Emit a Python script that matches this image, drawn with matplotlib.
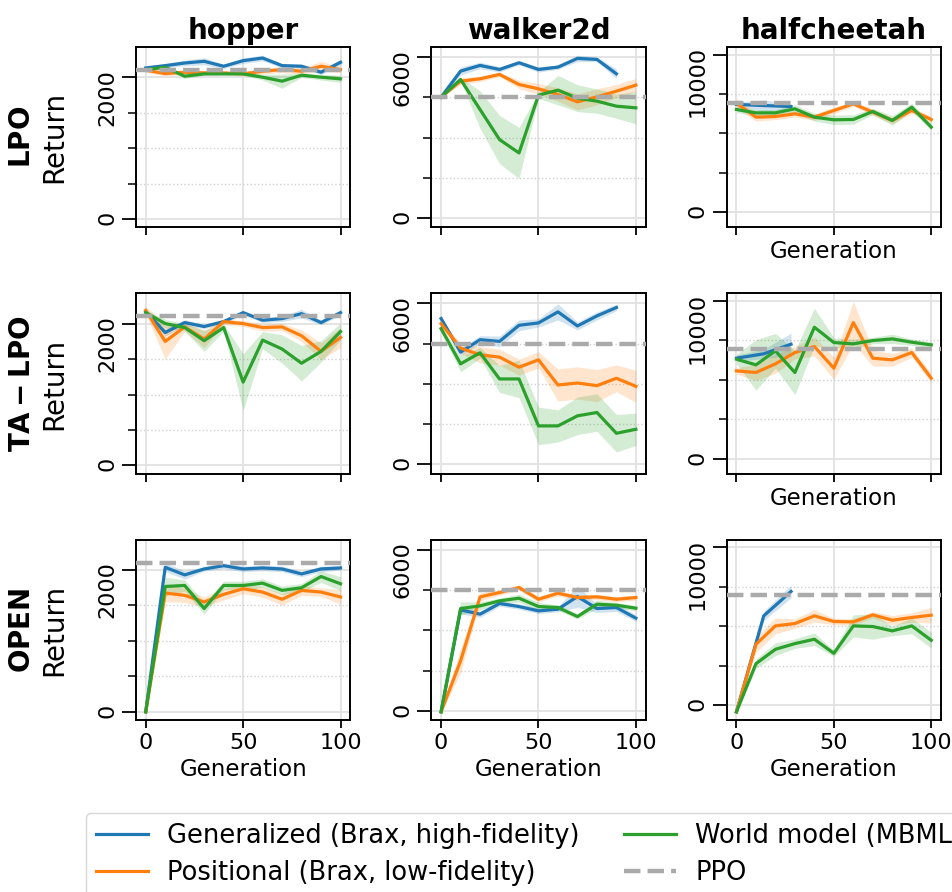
import matplotlib
matplotlib.use("Agg")
import matplotlib.pyplot as plt
import numpy as np
from matplotlib.lines import Line2D
from matplotlib.transforms import ScaledTranslation

GENERATIONS = [0, 10, 20, 30, 40, 50, 60, 70, 80, 90, 100]
WALKER_GEN_X = [0, 10, 20, 30, 40, 50, 60, 70, 80, 90]
CHEETAH_GEN_X = [0, 14, 28]

ENVS = ["hopper", "walker2d", "halfcheetah"]
METHODS = ["LPO", "TA-LPO", "OPEN"]
SERIES_LABELS = [
    "Generalized (Brax, high-fidelity)",
    "Positional (Brax, low-fidelity)",
    "World model (MBML)",
]
PPO_LABEL = "PPO"
PPO_RETURN = [2100, 4500, 6960]
Y_MAJOR = [2000, 6000, 10000]

# hopper
HOPPER_LPO_GEN = [2130, 2163, 2200, 2224, 2154, 2233, 2270, 2163, 2154, 2070, 2210]
HOPPER_LPO_GEN_SE = [20, 30, 40, 50, 30, 40, 40, 30, 30, 30, 40]
HOPPER_LPO_POS = [2098, 2051, 2070, 2061, 2061, 2047, 2084, 2107, 2084, 2154, 2107]
HOPPER_LPO_POS_SE = [30, 30, 30, 30, 20, 30, 40, 40, 40, 70, 40]
HOPPER_LPO_WM = [2107, 2140, 2014, 2047, 2047, 2047, 2000, 1944, 2028, 2000, 1977]
HOPPER_LPO_WM_SE = [20, 30, 30, 20, 20, 20, 40, 100, 30, 40, 50]

HOPPER_TA_GEN = [2168, 1874, 2014, 1958, 2028, 2154, 2047, 2070, 2140, 2014, 2154]
HOPPER_TA_GEN_SE = [30, 50, 40, 30, 30, 30, 30, 40, 60, 30, 40]
HOPPER_TA_POS = [2186, 1748, 1953, 1781, 2028, 2000, 1944, 1953, 1828, 1608, 1804]
HOPPER_TA_POS_SE = [50, 250, 60, 120, 40, 40, 50, 50, 80, 120, 140]
HOPPER_TA_WM = [2154, 2000, 1944, 1758, 1944, 1175, 1767, 1641, 1441, 1608, 1888]
HOPPER_TA_WM_SE = [40, 60, 50, 150, 50, 400, 120, 200, 250, 150, 120]

HOPPER_OPEN_GEN = [0, 2037, 1930, 2014, 2060, 2014, 2028, 2014, 1944, 2014, 2028]
HOPPER_OPEN_GEN_SE = [0, 60, 60, 30, 40, 40, 40, 40, 40, 40, 30]
HOPPER_OPEN_POS = [0, 1674, 1642, 1549, 1656, 1735, 1688, 1586, 1712, 1688, 1619]
HOPPER_OPEN_POS_SE = [0, 120, 100, 70, 80, 70, 70, 80, 70, 60, 100]
HOPPER_OPEN_WM = [0, 1767, 1781, 1456, 1781, 1781, 1814, 1712, 1749, 1907, 1805]
HOPPER_OPEN_WM_SE = [0, 130, 80, 80, 60, 60, 60, 60, 60, 80, 100]

# walker2d
WALKER_LPO_GEN = [4507, 5478, 5690, 5540, 5789, 5540, 5627, 5951, 5914, 5378]
WALKER_LPO_GEN_SE = [0, 150, 120, 100, 80, 100, 80, 120, 80, 180]
WALKER_LPO_POS = [4507, 5105, 5192, 5354, 4980, 4818, 4607, 4333, 4519, 4731, 4955]
WALKER_LPO_POS_SE = [0, 120, 100, 80, 150, 200, 250, 300, 300, 250, 250]
WALKER_LPO_WM = [4507, 5167, 4046, 2926, 2428, 4582, 4768, 4470, 4358, 4171, 4109]
WALKER_LPO_WM_SE = [0, 60, 700, 900, 950, 120, 550, 500, 450, 450, 600]

WALKER_TA_GEN = [5437, 4187, 4650, 4587, 5187, 5275, 5687, 5162, 5537, 5850]
WALKER_TA_GEN_SE = [80, 150, 150, 200, 200, 150, 300, 150, 150, 120]
WALKER_TA_POS = [5250, 4337, 4087, 4000, 3625, 3900, 2962, 3037, 2937, 3212, 2912]
WALKER_TA_POS_SE = [100, 200, 300, 300, 300, 300, 600, 600, 600, 500, 600]
WALKER_TA_WM = [5062, 3750, 4162, 3187, 3187, 1437, 1437, 1812, 1937, 1162, 1312]
WALKER_TA_WM_SE = [100, 300, 200, 500, 700, 700, 600, 700, 700, 700, 600]

WALKER_OPEN_GEN = [-37, 3763, 3602, 4000, 3888, 3726, 3788, 4260, 3813, 3850, 3453]
WALKER_OPEN_GEN_SE = [0, 150, 120, 100, 100, 100, 100, 400, 150, 150, 120]
WALKER_OPEN_POS = [-37, 1863, 4248, 4409, 4595, 4160, 4384, 4223, 4248, 4160, 4223]
WALKER_OPEN_POS_SE = [0, 450, 150, 100, 100, 100, 100, 100, 100, 100, 100]
WALKER_OPEN_WM = [-37, 3813, 3912, 4099, 4198, 3888, 3850, 3515, 3974, 3937, 3825]
WALKER_OPEN_WM_SE = [0, 250, 150, 100, 150, 150, 100, 100, 150, 100, 100]

# halfcheetah
CHEETAH_LPO_GEN = [6840, 6770, 6710]
CHEETAH_LPO_GEN_SE = [150, 350, 200]
CHEETAH_LPO_POS = [6920, 6035, 6077, 6246, 6035, 6457, 6879, 6351, 5824, 6457, 5887]
CHEETAH_LPO_POS_SE = [300, 250, 200, 200, 200, 200, 150, 200, 200, 200, 200]
CHEETAH_LPO_WM = [6520, 6309, 6309, 6562, 6035, 5866, 5887, 6393, 5824, 6668, 5402]
CHEETAH_LPO_WM_SE = [200, 200, 200, 250, 250, 300, 300, 200, 300, 250, 200]

CHEETAH_TA_GEN = [6372, 6650, 7258]
CHEETAH_TA_GEN_SE = [200, 300, 700]
CHEETAH_TA_POS = [5570, 5465, 6013, 6731, 7110, 5739, 8630, 6372, 6266, 6731, 5106]
CHEETAH_TA_POS_SE = [200, 500, 600, 400, 600, 700, 1330, 500, 400, 300, 300]
CHEETAH_TA_WM = [6309, 5950, 6836, 5465, 8334, 7364, 7280, 7490, 7596, 7385, 7216]
CHEETAH_TA_WM_SE = [300, 1600, 1100, 1400, 1200, 300, 300, 200, 300, 200, 200]

CHEETAH_OPEN_GEN = [-424, 5658, 7200]
CHEETAH_OPEN_GEN_SE = [0, 300, 400]
CHEETAH_OPEN_POS = [-424, 3857, 5022, 5170, 5658, 5298, 5276, 5721, 5382, 5552, 5700]
CHEETAH_OPEN_POS_SE = [0, 500, 500, 300, 400, 200, 200, 200, 300, 300, 500]
CHEETAH_OPEN_WM = [-424, 2628, 3539, 3899, 4174, 3284, 5022, 4980, 4704, 5022, 4111]
CHEETAH_OPEN_WM_SE = [0, 300, 400, 300, 400, 200, 700, 800, 300, 500, 500]

COLORS = ["#1f77b4", "#ff7f0e", "#2ca02c"]
PPO_COLOR = "#aaaaaa"

RESULTS = {
    ("hopper", "LPO"): [(GENERATIONS, HOPPER_LPO_GEN, HOPPER_LPO_GEN_SE),
                        (GENERATIONS, HOPPER_LPO_POS, HOPPER_LPO_POS_SE),
                        (GENERATIONS, HOPPER_LPO_WM, HOPPER_LPO_WM_SE)],
    ("hopper", "TA-LPO"): [(GENERATIONS, HOPPER_TA_GEN, HOPPER_TA_GEN_SE),
                           (GENERATIONS, HOPPER_TA_POS, HOPPER_TA_POS_SE),
                           (GENERATIONS, HOPPER_TA_WM, HOPPER_TA_WM_SE)],
    ("hopper", "OPEN"): [(GENERATIONS, HOPPER_OPEN_GEN, HOPPER_OPEN_GEN_SE),
                         (GENERATIONS, HOPPER_OPEN_POS, HOPPER_OPEN_POS_SE),
                         (GENERATIONS, HOPPER_OPEN_WM, HOPPER_OPEN_WM_SE)],
    ("walker2d", "LPO"): [(WALKER_GEN_X, WALKER_LPO_GEN, WALKER_LPO_GEN_SE),
                          (GENERATIONS, WALKER_LPO_POS, WALKER_LPO_POS_SE),
                          (GENERATIONS, WALKER_LPO_WM, WALKER_LPO_WM_SE)],
    ("walker2d", "TA-LPO"): [(WALKER_GEN_X, WALKER_TA_GEN, WALKER_TA_GEN_SE),
                             (GENERATIONS, WALKER_TA_POS, WALKER_TA_POS_SE),
                             (GENERATIONS, WALKER_TA_WM, WALKER_TA_WM_SE)],
    ("walker2d", "OPEN"): [(GENERATIONS, WALKER_OPEN_GEN, WALKER_OPEN_GEN_SE),
                           (GENERATIONS, WALKER_OPEN_POS, WALKER_OPEN_POS_SE),
                           (GENERATIONS, WALKER_OPEN_WM, WALKER_OPEN_WM_SE)],
    ("halfcheetah", "LPO"): [(CHEETAH_GEN_X, CHEETAH_LPO_GEN, CHEETAH_LPO_GEN_SE),
                             (GENERATIONS, CHEETAH_LPO_POS, CHEETAH_LPO_POS_SE),
                             (GENERATIONS, CHEETAH_LPO_WM, CHEETAH_LPO_WM_SE)],
    ("halfcheetah", "TA-LPO"): [(CHEETAH_GEN_X, CHEETAH_TA_GEN, CHEETAH_TA_GEN_SE),
                                (GENERATIONS, CHEETAH_TA_POS, CHEETAH_TA_POS_SE),
                                (GENERATIONS, CHEETAH_TA_WM, CHEETAH_TA_WM_SE)],
    ("halfcheetah", "OPEN"): [(CHEETAH_GEN_X, CHEETAH_OPEN_GEN, CHEETAH_OPEN_GEN_SE),
                              (GENERATIONS, CHEETAH_OPEN_POS, CHEETAH_OPEN_POS_SE),
                              (GENERATIONS, CHEETAH_OPEN_WM, CHEETAH_OPEN_WM_SE)],
}


def style_axis(ax, y_major):
    ax.set_xticks([0, 50, 100])
    ax.set_yticks([0, y_major])
    ax.set_yticks(np.arange(y_major / 4, y_major, y_major / 4), minor=True)
    ax.grid(True, which="major", color="#e2e2e2", lw=1.3, zorder=0)
    ax.grid(True, which="minor", axis="y", color="#d0d0d0", lw=1.0, ls=":", zorder=0)
    ax.tick_params(axis="y", which="major", length=10, width=1.3, labelsize=16, labelrotation=90)
    ax.tick_params(axis="y", which="minor", length=5.5, width=1.1)
    ax.tick_params(axis="x", which="major", length=5.5, width=1.3, labelsize=16)
    for spine in ax.spines.values():
        spine.set_linewidth(1.4)
        spine.set_color("black")


def hang_ytick_labels(ax, fig):
    # rotated labels hang down from their tick, starting a little above it
    shift = ScaledTranslation(0, 6 / 72, fig.dpi_scale_trans)
    for label in ax.get_yticklabels():
        label.set_va("top")
        label.set_transform(label.get_transform() + shift)


def main():
    fig, axes = plt.subplots(3, 3, figsize=(9.53, 8.92), dpi=100, sharex=True, sharey="col")
    fig.subplots_adjust(left=0.1427, right=0.9874, top=0.9473, bottom=0.1928,
                        wspace=0.3785, hspace=0.3667)

    for row, method in enumerate(METHODS):
        for col, env in enumerate(ENVS):
            ax = axes[row, col]
            for (xs, mean, se), color in zip(RESULTS[(env, method)], COLORS):
                mean = np.asarray(mean, dtype=float)
                se = np.asarray(se, dtype=float)
                ax.fill_between(xs, mean - se, mean + se, color=color, alpha=0.2, lw=0, zorder=2)
                ax.plot(xs, mean, color=color, lw=2.3, zorder=3)
            ax.axhline(PPO_RETURN[col], color=PPO_COLOR, lw=3.2, ls="--", zorder=4)
            style_axis(ax, Y_MAJOR[col])
            hang_ytick_labels(ax, fig)

            if row == 0:
                ax.set_title(env, fontsize=20, fontweight="bold")
            if col == 0:
                ax.set_ylabel(r"$\bf{" + method + "}$" + "\nReturn", fontsize=20)
                ax.yaxis.set_label_coords(-0.315, 0.5)
            if row == len(METHODS) - 1 or col == len(ENVS) - 1:
                ax.set_xlabel("Generation", fontsize=16.5)

    handles = [Line2D([], [], color=c, lw=2.3) for c in COLORS]
    handles.append(Line2D([], [], color=PPO_COLOR, lw=3.2, ls="--"))
    fig.legend(handles, SERIES_LABELS + [PPO_LABEL], loc="upper left",
               bbox_to_anchor=(86 / 953, 1 - 813 / 892), ncol=2, fontsize=18.5,
               handlelength=2.0, handletextpad=0.75, columnspacing=1.75,
               labelspacing=0.4, borderaxespad=0.0, frameon=True, edgecolor="#cccccc")

    fig.savefig("out.png", dpi=100, facecolor="white")
    plt.close(fig)


if __name__ == "__main__":
    main()
